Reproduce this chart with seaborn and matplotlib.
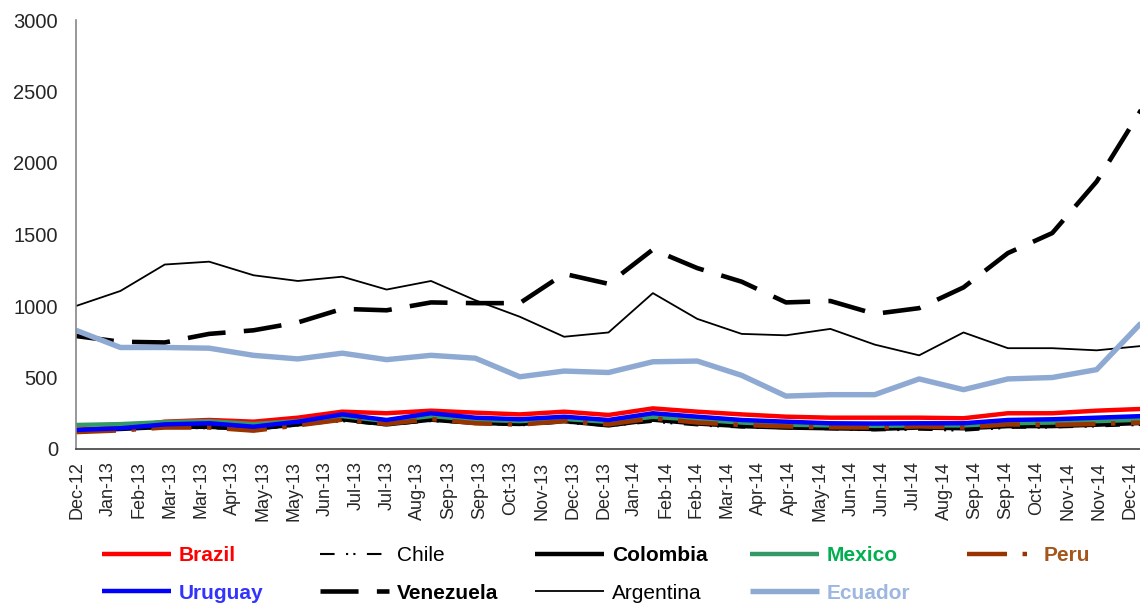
import numpy as np
import pandas as pd
import matplotlib
matplotlib.use("Agg")
import matplotlib.pyplot as plt
import seaborn as sns

# ---------------- data ----------------
month_index = list(range(25))  # Dec-12 .. Dec-14 (monthly)
tick_labels = ["Dec-12", "Jan-13", "Feb-13", "Mar-13", "Mar-13", "Apr-13", "May-13",
               "May-13", "Jun-13", "Jul-13", "Jul-13", "Aug-13", "Sep-13", "Sep-13",
               "Oct-13", "Nov-13", "Dec-13", "Dec-13", "Jan-14", "Feb-14", "Feb-14",
               "Mar-14", "Apr-14", "Apr-14", "May-14", "Jun-14", "Jun-14", "Jul-14",
               "Aug-14", "Sep-14", "Sep-14", "Oct-14", "Nov-14", "Nov-14", "Dec-14"]

brazil = [135, 150, 191, 203, 191, 219, 261, 250, 268, 254, 242, 261, 238, 284, 261,
          242, 226, 219, 219, 219, 215, 250, 250, 268, 280]
chile = [125, 138, 148, 145, 135, 165, 195, 165, 195, 178, 165, 185, 160, 190, 165,
         150, 145, 138, 130, 135, 128, 148, 150, 158, 168]
colombia = [128, 140, 155, 155, 142, 172, 208, 172, 205, 182, 175, 195, 165, 205, 178,
            160, 150, 145, 140, 150, 145, 160, 160, 170, 182]
mexico = [168, 174, 188, 195, 175, 195, 230, 195, 230, 205, 195, 210, 190, 225, 205,
          185, 170, 165, 162, 165, 165, 180, 185, 195, 205]
peru = [118, 130, 150, 150, 128, 165, 205, 175, 210, 180, 170, 195, 172, 215, 185,
        168, 158, 152, 150, 158, 150, 172, 168, 175, 185]
uruguay = [133, 145, 172, 180, 156, 191, 242, 203, 250, 219, 208, 226, 203, 250, 226,
           203, 191, 180, 178, 180, 180, 203, 208, 219, 230]
venezuela = [790, 750, 745, 805, 830, 885, 980, 970, 1025, 1020, 1020, 1225, 1155, 1395,
             1265, 1170, 1025, 1035, 945, 985, 1130, 1370, 1510, 1870, 2370]
argentina = [1000, 1105, 1290, 1310, 1215, 1175, 1205, 1115, 1175, 1040, 925, 785, 815,
             1090, 910, 805, 795, 840, 730, 655, 815, 705, 705, 690, 720]
ecuador = [830, 710, 710, 705, 655, 630, 670, 625, 655, 635, 505, 545, 535, 610, 615,
           515, 370, 380, 380, 490, 415, 490, 500, 555, 880]

series_names = ["Brazil", "Chile", "Colombia", "Mexico", "Peru",
                "Uruguay", "Venezuela", "Argentina", "Ecuador"]
series_values = [brazil, chile, colombia, mexico, peru,
                 uruguay, venezuela, argentina, ecuador]

# ---------------- styles ----------------
styles = {
    "Brazil":    dict(color="#FF0000", lw=3.2, ls="-"),
    "Chile":     dict(color="#000000", lw=1.5, ls=(0, (7, 5.5, 1, 2.5, 1, 5.5))),
    "Colombia":  dict(color="#000000", lw=3.2, ls="-"),
    "Mexico":    dict(color="#339966", lw=3.2, ls="-"),
    "Peru":      dict(color="#993300", lw=3.2, ls=(0, (9, 3.5, 1, 3.5))),
    "Uruguay":   dict(color="#0000FF", lw=3.2, ls="-"),
    "Venezuela": dict(color="#000000", lw=3.3, ls=(0, (8.3, 4))),
    "Argentina": dict(color="#000000", lw=1.3, ls="-"),
    "Ecuador":   dict(color="#8EA9D2", lw=3.9, ls="-"),
}
text_style = {
    "Brazil":    ("#FF0000", "bold"),
    "Chile":     ("#000000", "normal"),
    "Colombia":  ("#000000", "bold"),
    "Mexico":    ("#00B050", "bold"),
    "Peru":      ("#A5561C", "bold"),
    "Uruguay":   ("#3333FF", "bold"),
    "Venezuela": ("#000000", "bold"),
    "Argentina": ("#000000", "normal"),
    "Ecuador":   ("#9DB7E0", "bold"),
}

sns.set_style("white")
plt.rcParams["font.family"] = ["Liberation Sans", "DejaVu Sans"]

W, H = 1140, 605
fig = plt.figure(figsize=(W / 100, H / 100), dpi=100)
ax = fig.add_axes([76 / W, 1 - 449 / H, (1141 - 76) / W, (449 - 20) / H])

df = pd.DataFrame({"month": month_index})
handles = {}
for name, vals in zip(series_names, series_values):
    df[name] = vals
    st = styles[name]
    sns.lineplot(data=df, x="month", y=name, ax=ax, color=st["color"],
                 linewidth=st["lw"], linestyle=st["ls"], legend=False,
                 solid_capstyle="butt", dash_capstyle="butt", clip_on=True)
    handles[name] = ax.get_lines()[-1]

ax.set_xlim(0, 24)
ax.set_ylim(0, 3000)
ax.set_yticks(np.arange(0, 3001, 500))
ax.tick_params(axis="y", length=0, pad=13, labelsize=14.5)
tick_pos = np.linspace(0.03, 23.75, len(tick_labels))
ax.set_xticks(tick_pos)
ax.set_xticklabels(tick_labels, rotation=90, fontsize=13)
ax.tick_params(axis="x", length=0, pad=9)
ax.set_xlabel("")
ax.set_ylabel("")
for s in ["top", "right"]:
    ax.spines[s].set_visible(False)
ax.spines["left"].set_color("#868686")
ax.spines["left"].set_linewidth(1.2)
ax.spines["bottom"].set_color("#404040")
ax.spines["bottom"].set_linewidth(1.2)

# ---------------- legend (5 equal-width columns) ----------------
columns = [["Brazil", "Uruguay"], ["Chile", "Venezuela"], ["Colombia", "Argentina"],
           ["Mexico", "Ecuador"], ["Peru"]]
col_x = [102, 320, 535, 750, 967]
for names, x in zip(columns, col_x):
    leg = fig.legend([handles[n] for n in names], names, loc="upper left",
                     bbox_to_anchor=(x / W, 1 - 546 / H), frameon=False,
                     fontsize=15, handlelength=3.3, handletextpad=0.4,
                     borderpad=0, borderaxespad=0, labelspacing=0.9)
    for t, n in zip(leg.get_texts(), names):
        c, w = text_style[n]
        t.set_color(c)
        t.set_fontweight(w)

fig.savefig("out.png", dpi=100)
